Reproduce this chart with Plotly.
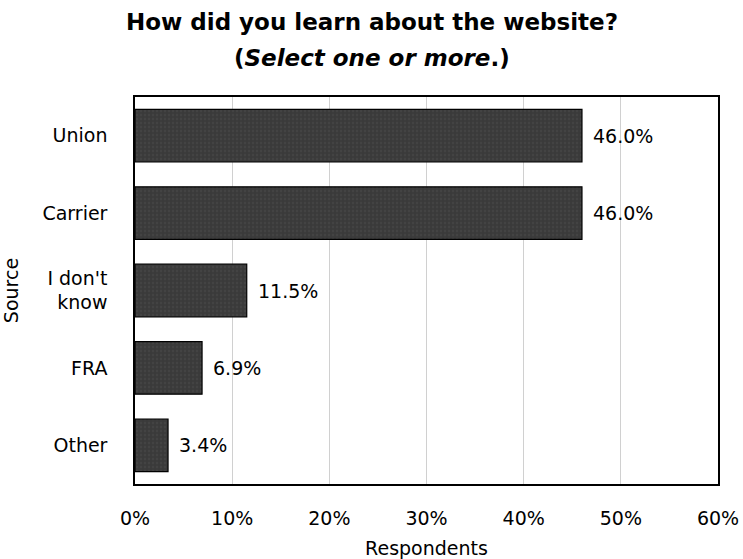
import plotly.graph_objects as go

# Survey responses: share of respondents per source
sources = ["Union", "Carrier", "I don't<br>know", "FRA", "Other"]
shares = [46.0, 46.0, 11.5, 6.9, 3.4]
x_ticks = [0, 10, 20, 30, 40, 50, 60]
x_tick_labels = [f"{v}%" for v in x_ticks]

FONT = "DejaVu Sans, sans-serif"
TXT = 19
W, H = 743, 559
ML, MR, MT, MB = 135, 25, 97, 75

fig = go.Figure(
    go.Bar(
        x=shares,
        y=sources,
        orientation="h",
        width=0.68,
        marker=dict(
            color="#3c3c3c",
            line=dict(color="#000000", width=1.2),
            pattern=dict(shape=".", fgcolor="#4c4c4c", bgcolor="#3a3a3a",
                         size=4, solidity=0.3),
        ),
        hoverinfo="skip",
    )
)

# value labels to the right of each bar
for src, val in zip(sources, shares):
    fig.add_annotation(
        x=val, y=src, xref="x", yref="y",
        text=f"{val:.1f}%", showarrow=False,
        xanchor="left", xshift=9,
        font=dict(family=FONT, size=TXT, color="#000000"),
    )

# two-line title, centred on the page
title_x = (W / 2 - ML) / (W - ML - MR)
fig.add_annotation(
    x=title_x, y=1, xref="paper", yref="paper", yshift=75,
    text="<b>How did you learn about the website?</b>",
    showarrow=False, xanchor="center", yanchor="middle",
    font=dict(family=FONT, size=23, color="#000000"),
)
fig.add_annotation(
    x=title_x, y=1, xref="paper", yref="paper", yshift=39,
    text="<b>(<i>Select one or more</i>.)</b>",
    showarrow=False, xanchor="center", yanchor="middle",
    font=dict(family=FONT, size=23, color="#000000"),
)

fig.update_layout(
    width=W,
    height=H,
    margin=dict(l=ML, r=MR, t=MT, b=MB),
    paper_bgcolor="white",
    plot_bgcolor="white",
    font=dict(family=FONT, size=TXT, color="#000000"),
    showlegend=False,
    bargap=0.32,
)

fig.update_xaxes(
    range=[0, 60],
    tickvals=x_ticks,
    ticktext=x_tick_labels,
    automargin=False,
    showgrid=True,
    gridcolor="#d0d0d0",
    gridwidth=1,
    zeroline=False,
    showline=True,
    linecolor="#000000",
    linewidth=1.5,
    mirror=True,
    ticks="",
    ticklabelstandoff=16,
    tickfont=dict(size=TXT),
    title=dict(text="Respondents", font=dict(size=TXT), standoff=16),
)

fig.update_yaxes(
    categoryorder="array",
    categoryarray=sources[::-1],
    automargin=False,
    showgrid=False,
    showline=True,
    linecolor="#000000",
    linewidth=1.5,
    mirror=True,
    ticks="",
    ticklabelstandoff=22,
    tickfont=dict(size=TXT),
    title=dict(text="Source", font=dict(size=TXT), standoff=19),
)

fig.write_html("out.html")
